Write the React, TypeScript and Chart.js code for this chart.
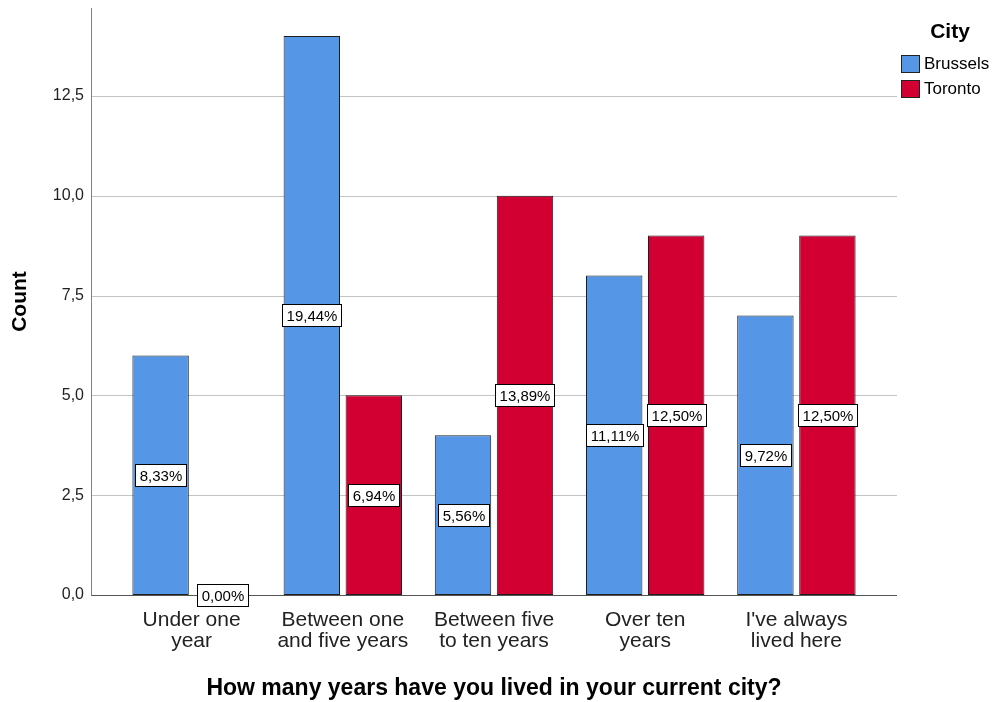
import React, { useEffect, useRef } from "react";
import { Chart, registerables } from "chart.js";

Chart.register(...registerables);

const categories: string[][] = [
  ["Under one", "year"],
  ["Between one", "and five years"],
  ["Between five", "to ten years"],
  ["Over ten", "years"],
  ["I've always", "lived here"],
];
const brussels = [6, 14, 4, 8, 7];
const toronto = [0, 5, 10, 9, 9];
const brusselsPct = ["8,33%", "19,44%", "5,56%", "11,11%", "9,72%"];
const torontoPct = ["0,00%", "6,94%", "13,89%", "12,50%", "12,50%"];
const yTicks = [0, 2.5, 5, 7.5, 10, 12.5];
const seriesNames = ["Brussels", "Toronto"];
const seriesColors = ["#5596E6", "#D20032"];
const legendTitle = "City";
const xTitle = "How many years have you lived in your current city?";
const yTitle = "Count";

const FONT = "'Liberation Sans', Arial, sans-serif";

export default function App() {
  const ref = useRef<HTMLCanvasElement | null>(null);

  useEffect(() => {
    if (!ref.current) return;
    const pctLabels = [brusselsPct, torontoPct];

    const gridPlugin = {
      id: "spssGrid",
      beforeDatasetsDraw(chart: any) {
        const { ctx, chartArea, scales } = chart;
        const y = scales.y;
        const l = chartArea.left - 25;
        const r = chartArea.right + 25;
        ctx.save();
        ctx.lineWidth = 1;
        yTicks.forEach((v) => {
          if (v === 0) return;
          const py = Math.round(y.getPixelForValue(v)) + 0.5;
          ctx.strokeStyle = "#c4c4c4";
          ctx.beginPath();
          ctx.moveTo(l, py);
          ctx.lineTo(r, py);
          ctx.stroke();
        });
        ctx.restore();
      },
      afterDatasetsDraw(chart: any) {
        const { ctx, chartArea, scales } = chart;
        const y = scales.y;
        const l = chartArea.left - 25;
        const r = chartArea.right + 25;
        ctx.save();
        ctx.lineWidth = 1;
        const p0 = Math.round(y.getPixelForValue(0)) + 0.5;
        ctx.strokeStyle = "#555555";
        ctx.beginPath();
        ctx.moveTo(l, p0);
        ctx.lineTo(r, p0);
        ctx.stroke();
        ctx.strokeStyle = "#808080";
        ctx.beginPath();
        ctx.moveTo(l + 0.5, chartArea.top);
        ctx.lineTo(l + 0.5, p0);
        ctx.stroke();
        ctx.restore();
      },
    };

    const labelPlugin = {
      id: "pctLabels",
      afterDatasetsDraw(chart: any) {
        const { ctx, scales } = chart;
        const y = scales.y;
        ctx.save();
        ctx.font = `15px ${FONT}`;
        ctx.textAlign = "center";
        ctx.textBaseline = "middle";
        chart.data.datasets.forEach((ds: any, i: number) => {
          const meta = chart.getDatasetMeta(i);
          meta.data.forEach((bar: any, j: number) => {
            const v = ds.data[j] as number;
            const text = pctLabels[i][j];
            const cy = y.getPixelForValue(v / 2);
            const tw = ctx.measureText(text).width;
            const w = Math.round(tw + 8);
            const h = 22;
            const bx = Math.round(bar.x - w / 2) + 0.5;
            const by = Math.round(cy - h / 2) + 0.5;
            ctx.fillStyle = "#ffffff";
            ctx.fillRect(bx, by, w, h);
            ctx.strokeStyle = "#000000";
            ctx.lineWidth = 1;
            ctx.strokeRect(bx, by, w, h);
            ctx.fillStyle = "#000000";
            ctx.fillText(text, bx + w / 2, by + h / 2 + 1);
          });
        });
        ctx.restore();
      },
    };

    const legendPlugin = {
      id: "spssLegend",
      afterDraw(chart: any) {
        const { ctx } = chart;
        ctx.save();
        ctx.font = `bold 21px ${FONT}`;
        ctx.fillStyle = "#000000";
        ctx.textAlign = "center";
        ctx.textBaseline = "middle";
        ctx.fillText(legendTitle, 950, 32);
        ctx.font = `17px ${FONT}`;
        ctx.textAlign = "left";
        seriesNames.forEach((name, i) => {
          const top = 55 + i * 25;
          ctx.fillStyle = seriesColors[i];
          ctx.fillRect(901.5, top + 0.5, 18, 17);
          ctx.strokeStyle = "#222222";
          ctx.lineWidth = 1;
          ctx.strokeRect(901.5, top + 0.5, 18, 17);
          ctx.fillStyle = "#000000";
          ctx.fillText(name, 924, top + 9);
        });
        ctx.restore();
      },
    };

    const chart = new Chart(ref.current, {
      type: "bar",
      data: {
        labels: categories,
        datasets: [
          {
            label: seriesNames[0],
            data: brussels,
            backgroundColor: seriesColors[0],
            borderColor: "#1e1e1e",
            borderWidth: 1,
            borderSkipped: false,
            barPercentage: 0.91,
            categoryPercentage: 0.82,
          },
          {
            label: seriesNames[1],
            data: toronto,
            backgroundColor: seriesColors[1],
            borderColor: "#1e1e1e",
            borderWidth: 1,
            borderSkipped: false,
            barPercentage: 0.91,
            categoryPercentage: 0.82,
          },
        ],
      },
      options: {
        responsive: false,
        animation: false,
        layout: { padding: { top: 8, right: 125, bottom: 0, left: 0 } },
        plugins: {
          legend: { display: false },
          tooltip: { enabled: false },
        },
        scales: {
          x: {
            grid: { display: false, drawTicks: false },
            border: { display: false },
            ticks: {
              color: "#222222",
              font: { family: FONT, size: 21, lineHeight: 1.0 },
              padding: 15,
              maxRotation: 0,
              autoSkip: false,
            },
            title: {
              display: true,
              text: xTitle,
              color: "#000000",
              font: { family: FONT, size: 23, weight: "bold" },
              padding: { top: 0, bottom: 0 },
            },
            afterFit(scale: any) {
              scale.height = 107;
              scale.paddingLeft = 0;
              scale.paddingRight = 0;
            },
          },
          y: {
            min: 0,
            max: 14.7,
            grid: { display: false, drawTicks: false },
            border: { display: false },
            afterBuildTicks(scale: any) {
              scale.ticks = yTicks.map((v) => ({ value: v }));
            },
            ticks: {
              color: "#222222",
              font: { family: FONT, size: 16 },
              padding: 32,
              callback: (v: any) => Number(v).toFixed(1).replace(".", ","),
            },
            title: {
              display: true,
              text: yTitle,
              color: "#000000",
              font: { family: FONT, size: 21, weight: "bold" },
              padding: { top: 8, bottom: 0 },
            },
            afterFit(scale: any) {
              scale.width = 116;
              scale.paddingTop = 0;
              scale.paddingBottom = 0;
            },
          },
        },
      },
      plugins: [gridPlugin, labelPlugin, legendPlugin],
    } as any);

    return () => chart.destroy();
  }, []);

  return (
    <div style={{ position: "absolute", left: 0, top: 0, width: 997, height: 702, background: "#ffffff" }}>
      <canvas ref={ref} width={997} height={702} />
    </div>
  );
}
